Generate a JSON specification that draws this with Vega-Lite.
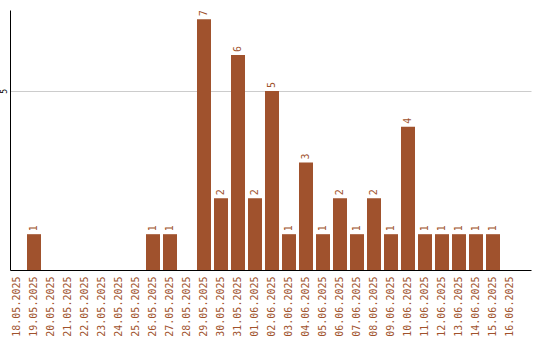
{
  "$schema": "https://vega.github.io/schema/vega-lite/v6.json",
  "width": 521,
  "height": 260,
  "autosize": {"type": "none"},
  "padding": {"left": 10, "top": 10, "right": 9, "bottom": 70},
  "background": "white",
  "config": {"view": {"stroke": null}, "font": "DejaVu Sans Mono"},
  "data": {
    "values": [
      {"date": "18.05.2025", "count": 0},
      {"date": "19.05.2025", "count": 1},
      {"date": "20.05.2025", "count": 0},
      {"date": "21.05.2025", "count": 0},
      {"date": "22.05.2025", "count": 0},
      {"date": "23.05.2025", "count": 0},
      {"date": "24.05.2025", "count": 0},
      {"date": "25.05.2025", "count": 0},
      {"date": "26.05.2025", "count": 1},
      {"date": "27.05.2025", "count": 1},
      {"date": "28.05.2025", "count": 0},
      {"date": "29.05.2025", "count": 7},
      {"date": "30.05.2025", "count": 2},
      {"date": "31.05.2025", "count": 6},
      {"date": "01.06.2025", "count": 2},
      {"date": "02.06.2025", "count": 5},
      {"date": "03.06.2025", "count": 1},
      {"date": "04.06.2025", "count": 3},
      {"date": "05.06.2025", "count": 1},
      {"date": "06.06.2025", "count": 2},
      {"date": "07.06.2025", "count": 1},
      {"date": "08.06.2025", "count": 2},
      {"date": "09.06.2025", "count": 1},
      {"date": "10.06.2025", "count": 4},
      {"date": "11.06.2025", "count": 1},
      {"date": "12.06.2025", "count": 1},
      {"date": "13.06.2025", "count": 1},
      {"date": "14.06.2025", "count": 1},
      {"date": "15.06.2025", "count": 1},
      {"date": "16.06.2025", "count": 0}
    ]
  },
  "encoding": {
    "x": {
      "field": "date",
      "type": "ordinal",
      "sort": null,
      "scale": {"paddingInner": 0.1765, "paddingOuter": 0.4118, "align": 0},
      "axis": {
        "title": null,
        "labelAngle": -90,
        "labelAlign": "right",
        "labelBaseline": "middle",
        "labelColor": "#A0522D",
        "labelFont": "DejaVu Sans Mono",
        "labelFontSize": 10,
        "labelPadding": 6,
        "ticks": false,
        "domainColor": "black",
        "domainWidth": 1,
        "labelOverlap": false
      }
    },
    "y": {
      "field": "count",
      "type": "quantitative",
      "scale": {"domain": [0, 7.26], "nice": false, "zero": true},
      "axis": {
        "title": null,
        "values": [5],
        "labelAngle": -90,
        "labelAlign": "center",
        "labelBaseline": "bottom",
        "labelFontSize": 8,
        "labelColor": "black",
        "labelPadding": 2,
        "ticks": false,
        "domainColor": "black",
        "grid": true,
        "gridColor": "#cccccc",
        "gridWidth": 1
      }
    }
  },
  "layer": [
    {"mark": {"type": "bar", "color": "#A0522D"}},
    {
      "transform": [{"filter": "datum.count > 0"}],
      "mark": {
        "type": "text",
        "angle": 270,
        "align": "left",
        "baseline": "middle",
        "dx": 3,
        "color": "#A0522D",
        "font": "DejaVu Sans Mono",
        "fontSize": 10
      },
      "encoding": {"text": {"field": "count", "type": "quantitative"}}
    }
  ]
}
